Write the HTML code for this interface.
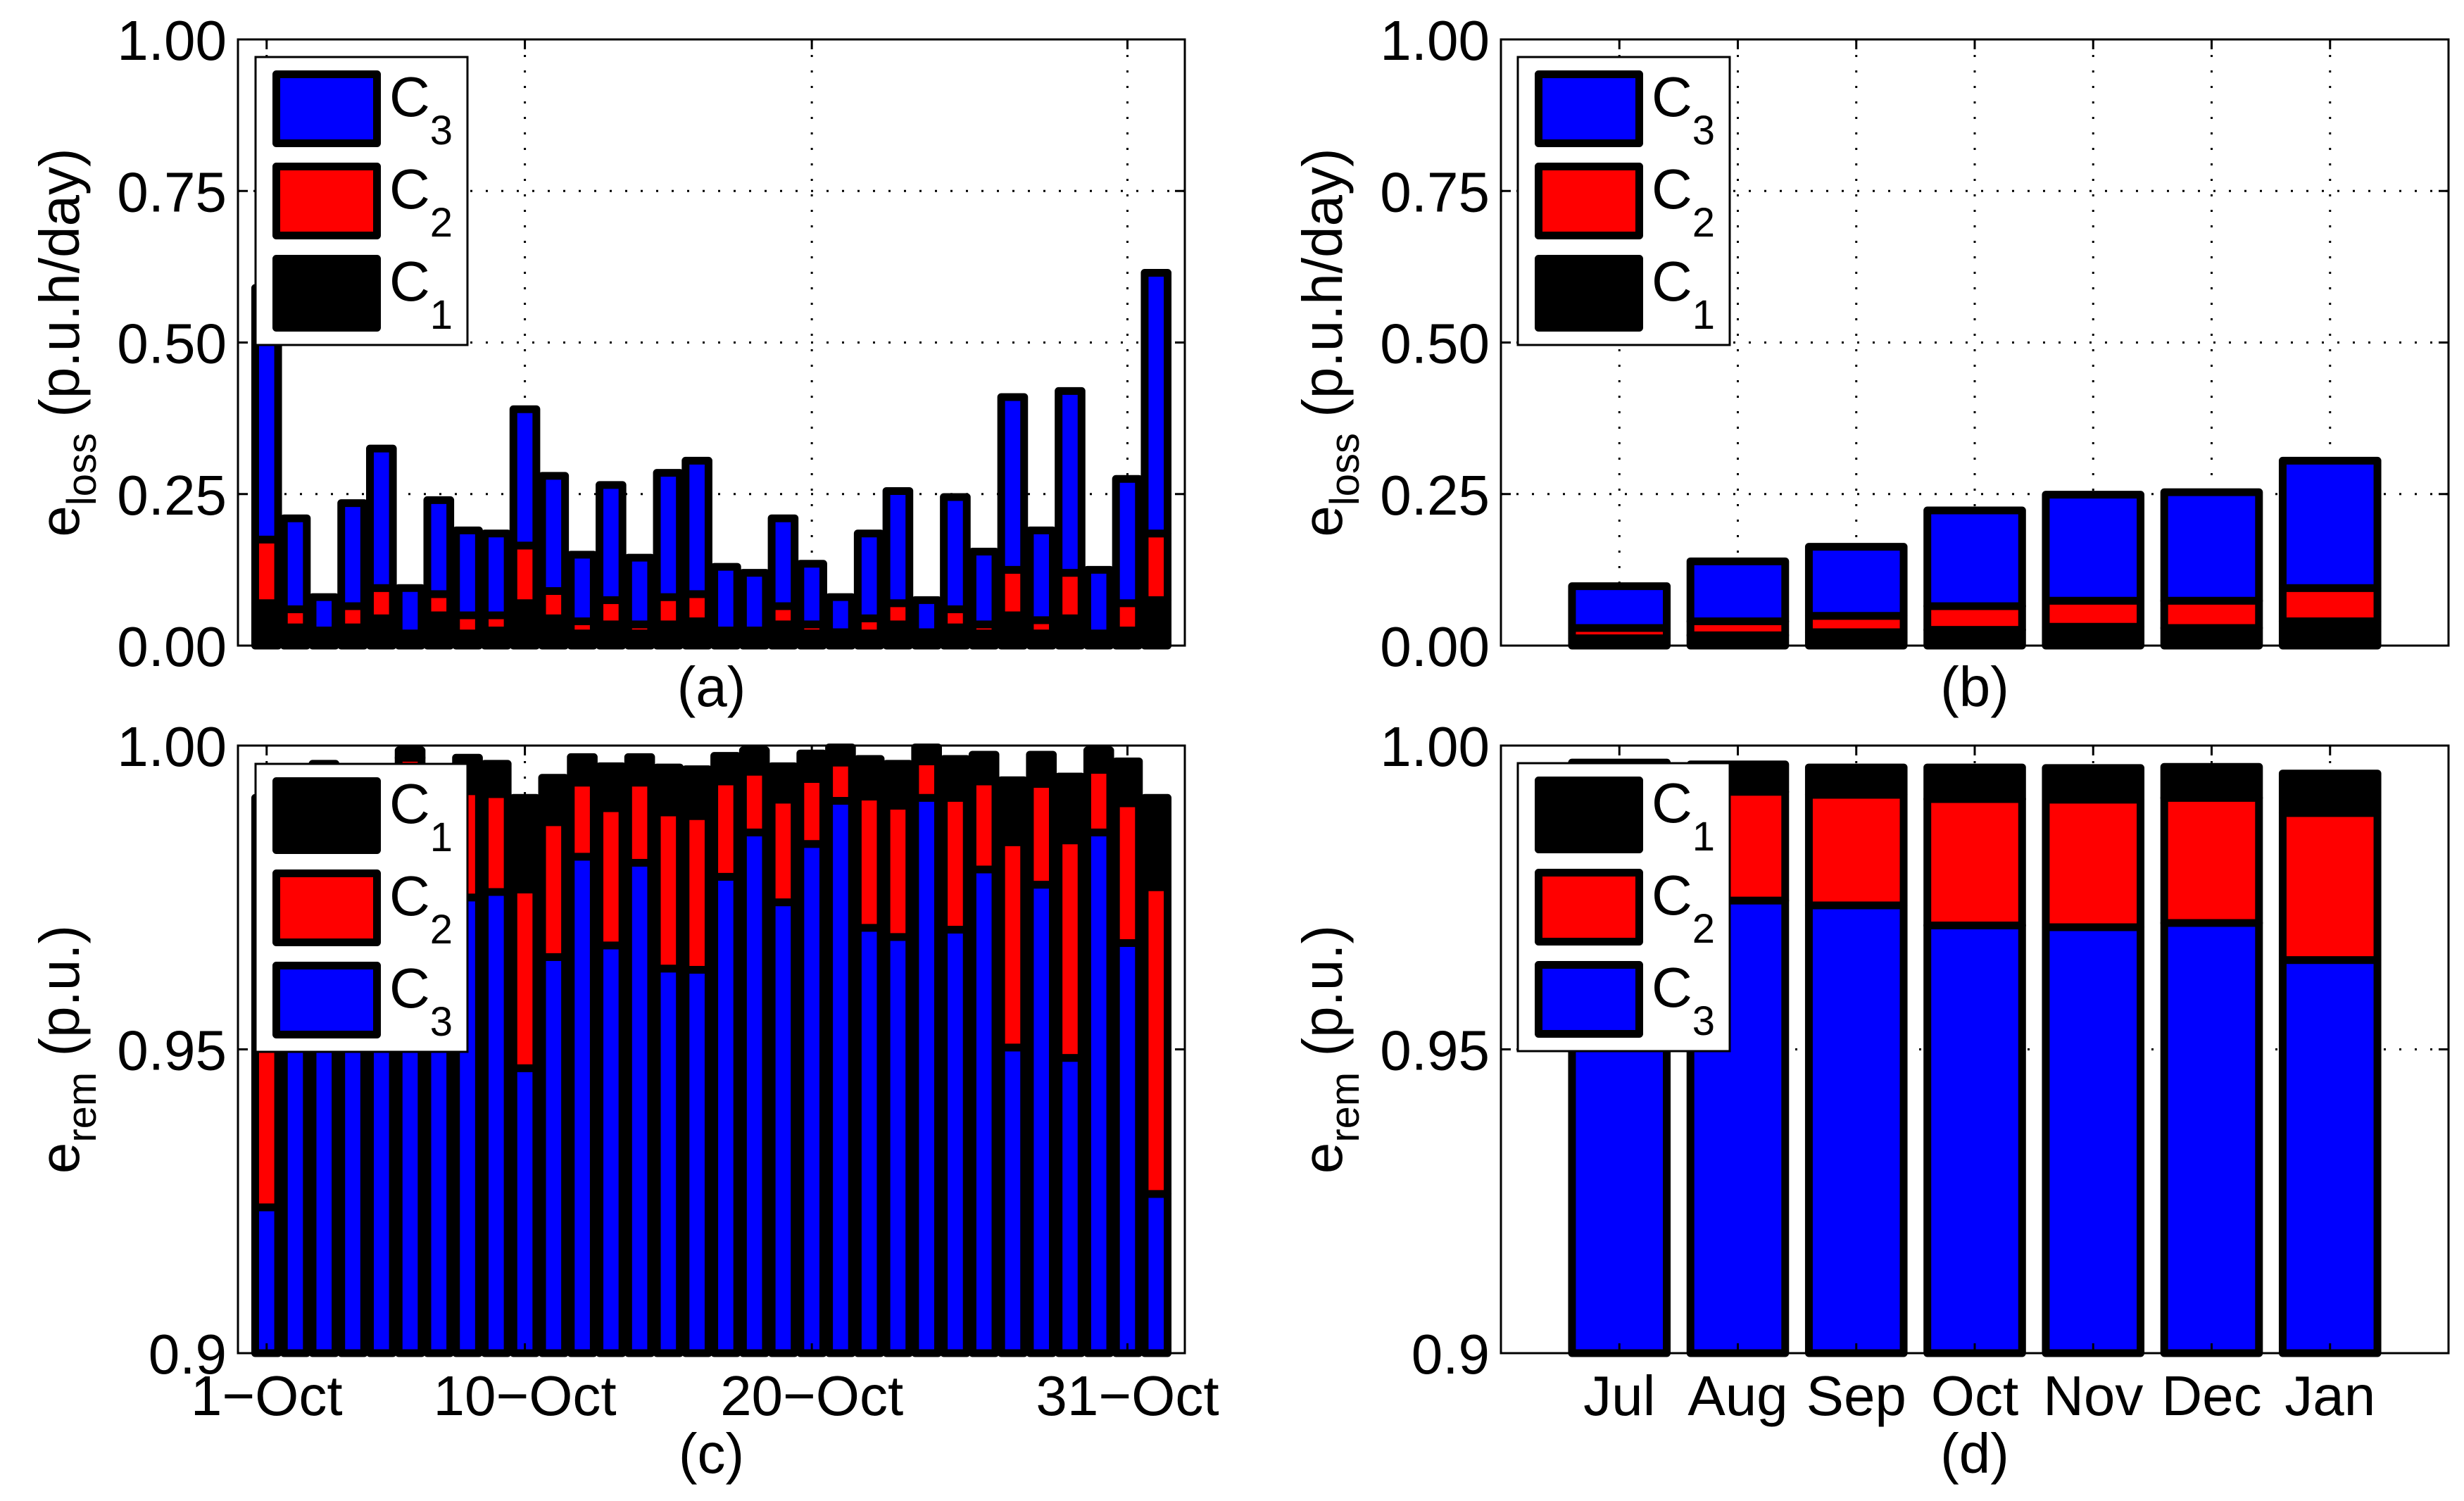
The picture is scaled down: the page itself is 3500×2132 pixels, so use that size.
<!DOCTYPE html>
<html><head><meta charset="utf-8"><style>
html,body{margin:0;padding:0;background:#fff;}
svg{display:block;font-family:"Liberation Sans",Arial,sans-serif;}
</style></head><body>
<svg id="fig" xmlns="http://www.w3.org/2000/svg" width="3500" height="2132" viewBox="0 0 3500 2132"></svg>
<script>
// ---- data: daily October (panels a, c) ----
const dayTicks = [1, 10, 20, 31];
const dayTickLabels = ["1\u2212Oct", "10\u2212Oct", "20\u2212Oct", "31\u2212Oct"];
// e_loss per day (cumulative tops): C1, C1+C2, total
const lossC1 = [0.07,0.03,0.025,0.03,0.045,0.015,0.05,0.02,0.025,0.07,0.045,0.02,0.035,0.02,0.035,0.04,0.015,0.015,0.035,0.02,0.02,0.02,0.035,0.02,0.03,0.02,0.05,0.02,0.045,0.015,0.025,0.075];
const lossC12 = [0.175,0.06,0.025,0.065,0.095,0.02,0.085,0.05,0.05,0.165,0.09,0.04,0.075,0.035,0.08,0.085,0.025,0.025,0.065,0.035,0.022,0.045,0.07,0.022,0.06,0.035,0.125,0.042,0.12,0.02,0.07,0.185];
const lossTot = [0.59,0.21,0.08,0.235,0.325,0.095,0.24,0.19,0.185,0.39,0.28,0.15,0.265,0.145,0.285,0.305,0.13,0.12,0.21,0.135,0.08,0.185,0.255,0.075,0.245,0.155,0.41,0.19,0.42,0.125,0.275,0.615];
// e_rem per day (cumulative tops): C3, C3+C2, total
const remC3 = [0.924,0.97,0.99,0.975,0.965,0.995,0.975,0.975,0.9759,0.9469,0.9652,0.9817,0.9671,0.9807,0.9633,0.9631,0.9784,0.9857,0.9742,0.9838,0.9909,0.97,0.9685,0.9914,0.9697,0.9796,0.9503,0.9771,0.9486,0.9857,0.9675,0.9262];
const remC32 = [0.975,0.99,0.995,0.99,0.987,0.998,0.99,0.9925,0.992,0.9763,0.9874,0.9939,0.9897,0.9939,0.989,0.9884,0.9941,0.9957,0.9911,0.9945,0.9972,0.9916,0.9901,0.9974,0.9914,0.9941,0.9841,0.9937,0.9844,0.996,0.9905,0.9767];
const remTot = [0.9914,0.995,0.997,0.995,0.994,0.9992,0.995,0.998,0.997,0.9914,0.9947,0.9981,0.9966,0.9981,0.9964,0.9961,0.9983,0.9992,0.9966,0.9987,0.9997,0.9978,0.997,0.9997,0.9978,0.9985,0.9943,0.9985,0.9949,0.9992,0.9974,0.9914];
// ---- data: monthly (panels b, d) ----
const months = ["Jul","Aug","Sep","Oct","Nov","Dec","Jan"];
const mLossC1 = [0.012,0.017,0.022,0.026,0.031,0.029,0.040];
const mLossC12 = [0.029,0.040,0.049,0.065,0.074,0.074,0.095];
const mLossTot = [0.098,0.139,0.163,0.223,0.249,0.253,0.305];
const mRemC3 = [0.978,0.9745,0.9737,0.9704,0.9701,0.9708,0.9647];
const mRemC32 = [0.9935,0.9924,0.9919,0.9912,0.9911,0.9914,0.9889];
const mRemTot = [0.9972,0.9969,0.9964,0.9964,0.9963,0.9965,0.9954];
const lossTicks = [0,0.25,0.5,0.75,1.0];
const lossTickLabels = ["0.00","0.25","0.50","0.75","1.00"];
const remTicks = [0.9,0.95,1.0];
const remTickLabels = ["0.9","0.95","1.00"];

const NS="http://www.w3.org/2000/svg";
const svg=document.getElementById('fig');
function el(tag,attrs,parent){const e=document.createElementNS(NS,tag);for(const k in attrs)e.setAttribute(k,attrs[k]);(parent||svg).appendChild(e);return e;}
const COL={c1:"#000000",c2:"#ff0000",c3:"#0000ff"};

function makeAxes(box,xmax,ymin,ymax){
  const xs=v=>box.x0+(v/xmax)*(box.x1-box.x0);
  const ys=v=>box.y1-(v-ymin)/(ymax-ymin)*(box.y1-box.y0);
  return {xs,ys};
}
function panel(opts){
  const {name,box,xmax,ymin,ymax,yt,ytl,xt,xtl,ylab,ysub,yunit,letter}=opts;
  const g=el('g',{});
  
  
  const {xs,ys}=makeAxes(box,xmax,ymin,ymax);
  el('rect',{x:box.x0,y:box.y0,width:box.x1-box.x0,height:box.y1-box.y0,fill:'#fff'},g);
  // grid
  const grid=el('g',{stroke:'#000','stroke-width':3,'stroke-dasharray':'3 19'},g);
  
  
  yt.forEach(v=>{if(v>ymin&&v<ymax){const y=ys(v);el('line',{x1:box.x0,x2:box.x1,y1:y,y2:y},grid);}});
  xt.forEach(v=>{const x=xs(v);el('line',{x1:x,x2:x,y1:box.y0,y2:box.y1},grid);});
  return {g,xs,ys};
}
function finishPanel(p,opts){
  const {box,yt,ytl,xt,xtl,ylab,ysub,yunit,letter,ymin,ymax}=opts;
  const g=p.g;
  const ax=el('g',{stroke:'#000','stroke-width':3,fill:'none'},g);
  
  
  el('rect',{x:box.x0,y:box.y0,width:box.x1-box.x0,height:box.y1-box.y0},ax);
  yt.forEach((v,i)=>{const y=p.ys(v);
    el('line',{x1:box.x0,x2:box.x0+14,y1:y,y2:y},ax);el('line',{x1:box.x1,x2:box.x1-14,y1:y,y2:y},ax);
    const t=el('text',{x:box.x0-16,y:y+29,'text-anchor':'end','font-size':80,fill:'#000'},g);
    
    
    t.textContent=ytl[i];});
  xt.forEach((v,i)=>{const x=p.xs(v);
    el('line',{x1:x,x2:x,y1:box.y1,y2:box.y1-14},ax);el('line',{x1:x,x2:x,y1:box.y0,y2:box.y0+14},ax);
    if(xtl){const t=el('text',{x:x,y:box.y1+88,'text-anchor':'middle','font-size':80,fill:'#000'},g);
      
      
      t.textContent=xtl[i];}});
  const cy=(box.y0+box.y1)/2;
  const yl=el('text',{transform:`translate(${box.x0-226},${cy}) rotate(-90)`,'text-anchor':'middle','font-size':80,fill:'#000'},g);
  
  
  yl.appendChild(document.createTextNode('e'));
  const s=el('tspan',{dy:24,'font-size':58},yl);s.textContent=ysub;
  const u=el('tspan',{dy:-24},yl);u.textContent='\u00a0(p.u.'+yunit;
  const lt=el('text',{x:(box.x0+box.x1)/2,y:letter.y,'text-anchor':'middle','font-size':80,fill:'#000'},g);
  
  
  lt.textContent=letter.t;
}
function seg(g,x,w,y0v,y1v,ys,fill,nm){
  const ya=ys(y1v),yb=ys(y0v);
  const r=el('rect',{x:x-w/2,y:Math.min(ya,yb),width:w,height:Math.max(Math.abs(yb-ya),0.5),fill:fill,stroke:'#000','stroke-width':11,'stroke-linejoin':'round'},g);
  
  
}
function legend(g,x,y,entries){
  const lg=el('g',{},g);
  
  
  el('rect',{x:x,y:y,width:301,height:409,fill:'#fff',stroke:'#000','stroke-width':3},lg);
  entries.forEach((e,i)=>{
    const py=y+19+i*131;
    el('rect',{x:x+29.5,y:py+5.5,width:143,height:98,fill:e.c,stroke:'#000','stroke-width':11,'stroke-linejoin':'round'},lg);
    const t=el('text',{x:x+190,y:py+65,'font-size':80,fill:'#000'},lg);
    
    
    t.appendChild(document.createTextNode('C'));
    const s=el('tspan',{dy:40,'font-size':58},t);s.textContent=e.n;
  });
}
const boxA={x0:338,x1:1683,y0:56,y1:917}, boxB={x0:2132,x1:3478,y0:56,y1:917};
const boxC={x0:338,x1:1683,y0:1059,y1:1922}, boxD={x0:2132,x1:3478,y0:1059,y1:1922};

// Panel a
let o={name:'panel-a',box:boxA,xmax:33,ymin:0,ymax:1,yt:lossTicks,ytl:lossTickLabels,xt:dayTicks,xtl:null,ysub:'loss',yunit:'h/day)',letter:{t:'(a)',y:1003}};
let p=panel(o);
let bw=0.8*(boxA.x1-boxA.x0)/33;
lossTot.forEach((v,i)=>{const x=p.xs(i+1);
  seg(p.g,x,bw,0,lossC1[i],p.ys,COL.c1,'bar-c1');
  seg(p.g,x,bw,lossC1[i],lossC12[i],p.ys,COL.c2,'bar-c2');
  seg(p.g,x,bw,lossC12[i],v,p.ys,COL.c3,'bar-c3');});
finishPanel(p,o);
legend(p.g,363,81,[{c:COL.c3,n:'3'},{c:COL.c2,n:'2'},{c:COL.c1,n:'1'}]);

// Panel c
o={name:'panel-c',box:boxC,xmax:33,ymin:0.9,ymax:1,yt:remTicks,ytl:remTickLabels,xt:dayTicks,xtl:dayTickLabels,ysub:'rem',yunit:')',letter:{t:'(c)',y:2092}};
p=panel(o);
remTot.forEach((v,i)=>{const x=p.xs(i+1);
  seg(p.g,x,bw,0.9,remC3[i],p.ys,COL.c3,'bar-c3');
  seg(p.g,x,bw,remC3[i],remC32[i],p.ys,COL.c2,'bar-c2');
  seg(p.g,x,bw,remC32[i],v,p.ys,COL.c1,'bar-c1');});
finishPanel(p,o);
legend(p.g,363,1085,[{c:COL.c1,n:'1'},{c:COL.c2,n:'2'},{c:COL.c3,n:'3'}]);

// Panel b
const mIdx=months.map((m,i)=>i+1);
o={name:'panel-b',box:boxB,xmax:8,ymin:0,ymax:1,yt:lossTicks,ytl:lossTickLabels,xt:mIdx,xtl:null,ysub:'loss',yunit:'h/day)',letter:{t:'(b)',y:1003}};
p=panel(o);
let bw2=0.8*(boxB.x1-boxB.x0)/8;
mLossTot.forEach((v,i)=>{const x=p.xs(i+1);
  seg(p.g,x,bw2,0,mLossC1[i],p.ys,COL.c1,'bar-c1');
  seg(p.g,x,bw2,mLossC1[i],mLossC12[i],p.ys,COL.c2,'bar-c2');
  seg(p.g,x,bw2,mLossC12[i],v,p.ys,COL.c3,'bar-c3');});
finishPanel(p,o);
legend(p.g,2156,81,[{c:COL.c3,n:'3'},{c:COL.c2,n:'2'},{c:COL.c1,n:'1'}]);

// Panel d
o={name:'panel-d',box:boxD,xmax:8,ymin:0.9,ymax:1,yt:remTicks,ytl:remTickLabels,xt:mIdx,xtl:months,ysub:'rem',yunit:')',letter:{t:'(d)',y:2092}};
p=panel(o);
mRemTot.forEach((v,i)=>{const x=p.xs(i+1);
  seg(p.g,x,bw2,0.9,mRemC3[i],p.ys,COL.c3,'bar-c3');
  seg(p.g,x,bw2,mRemC3[i],mRemC32[i],p.ys,COL.c2,'bar-c2');
  seg(p.g,x,bw2,mRemC32[i],v,p.ys,COL.c1,'bar-c1');});
finishPanel(p,o);
legend(p.g,2156,1084,[{c:COL.c1,n:'1'},{c:COL.c2,n:'2'},{c:COL.c3,n:'3'}]);
</script>
</body></html>
